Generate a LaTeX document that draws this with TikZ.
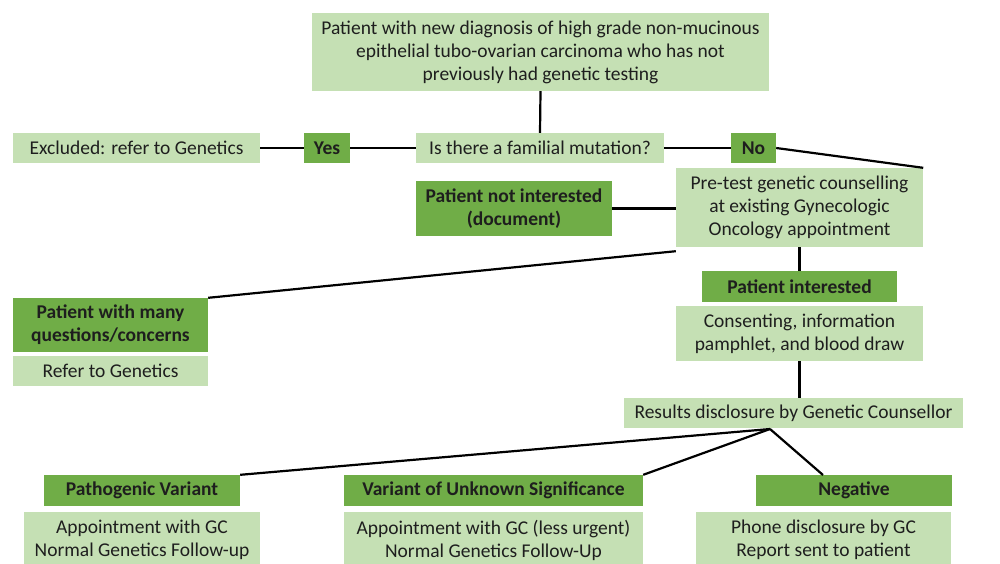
\documentclass[tikz,border=0pt]{standalone}
\usepackage{fontspec}
\setmainfont{Carlito}
\definecolor{lgreen}{RGB}{197,224,180}
\definecolor{dgreen}{RGB}{112,173,71}
\definecolor{ink}{RGB}{30,30,30}
\begin{document}
\begin{tikzpicture}[x=1pt,y=-1pt,
  base/.style={inner sep=0pt, align=center, text=ink, font=\fontsize{19.5}{23}\selectfont},
  lbox/.style={base, fill=lgreen},
  dbox/.style={base, fill=dgreen, font=\fontsize{19.5}{23}\selectfont\bfseries},
  conn/.style={draw=black, line width=2.2pt}]
\useasboundingbox (0,0) rectangle (1000,563);
\fill[white] (0,0) rectangle (1000,563);
% nodes
\node[lbox, minimum width=457pt, minimum height=78pt] (top) at (540.5,52) {Patient with new diagnosis of high grade non-mucinous\\epithelial tubo-ovarian carcinoma who has not\\previously had genetic testing};
\node[lbox, minimum width=247pt, minimum height=30pt] (excl) at (136.5,148) {Excluded: refer to Genetics};
\node[dbox, minimum width=46pt, minimum height=30pt] (yes) at (327,148) {Yes};
\node[lbox, minimum width=248pt, minimum height=30pt] (q) at (540,148) {Is there a familial mutation?};
\node[dbox, minimum width=45pt, minimum height=30pt] (no) at (753.5,148) {No};
\node[lbox, minimum width=247pt, minimum height=79pt] (pre) at (799.5,207.5) {Pre-test genetic counselling\\at existing Gynecologic\\Oncology appointment};
\node[dbox, minimum width=196pt, minimum height=55pt] (notint) at (514,208.5) {Patient not interested\\(document)};
\node[dbox, minimum width=195pt, minimum height=54pt] (many) at (110.5,325) {Patient with many\\questions/concerns};
\node[lbox, minimum width=195pt, minimum height=30pt] (refer) at (110.5,371) {Refer to Genetics};
\node[dbox, minimum width=195pt, minimum height=31pt] (int) at (799.5,286.5) {Patient interested};
\node[lbox, minimum width=247pt, minimum height=55pt] (cons) at (799.5,333.5) {Consenting, information\\pamphlet, and blood draw};
\node[lbox, minimum width=339pt, minimum height=30pt] (res) at (793.5,413) {Results disclosure by Genetic Counsellor};
\node[dbox, minimum width=196pt, minimum height=31pt] (path) at (142,490.5) {Pathogenic Variant};
\node[lbox, minimum width=236pt, minimum height=56pt] (pathL) at (142,540) {Appointment with GC\\Normal Genetics Follow-up};
\node[dbox, minimum width=299pt, minimum height=31pt] (vus) at (493.5,490.5) {Variant of Unknown Significance};
\node[lbox, minimum width=299pt, minimum height=56pt] (vusL) at (493.5,540) {Appointment with GC (less urgent)\\Normal Genetics Follow-Up};
\node[dbox, minimum width=196pt, minimum height=31pt] (neg) at (854,490.5) {Negative};
\node[lbox, minimum width=255pt, minimum height=56pt] (negL) at (823.5,540) {Phone disclosure by GC\\Report sent to patient};
\coordinate (hub) at (770,429);
\coordinate (negin) at (823,475);
% connectors
\draw[conn] (top.south) -- (q.north);
\draw[conn] (excl.east) -- (yes.west);
\draw[conn] (yes.east) -- (q.west);
\draw[conn] (q.east) -- (no.west);
\draw[conn] (no.east) -- (pre.north east);
\draw[conn] (notint.east) -- (pre.west |- notint.east);
\draw[conn] ([yshift=-4pt]pre.south west) -- (many.north east);
\draw[conn] (pre.south) -- (int.north);
\draw[conn] (cons.south) -- (res.north -| cons.south);
\draw[conn] (hub) -- (path.north east);
\draw[conn] (hub) -- (vus.north east);
\draw[conn] (hub) -- (negin);
\end{tikzpicture}
\end{document}
